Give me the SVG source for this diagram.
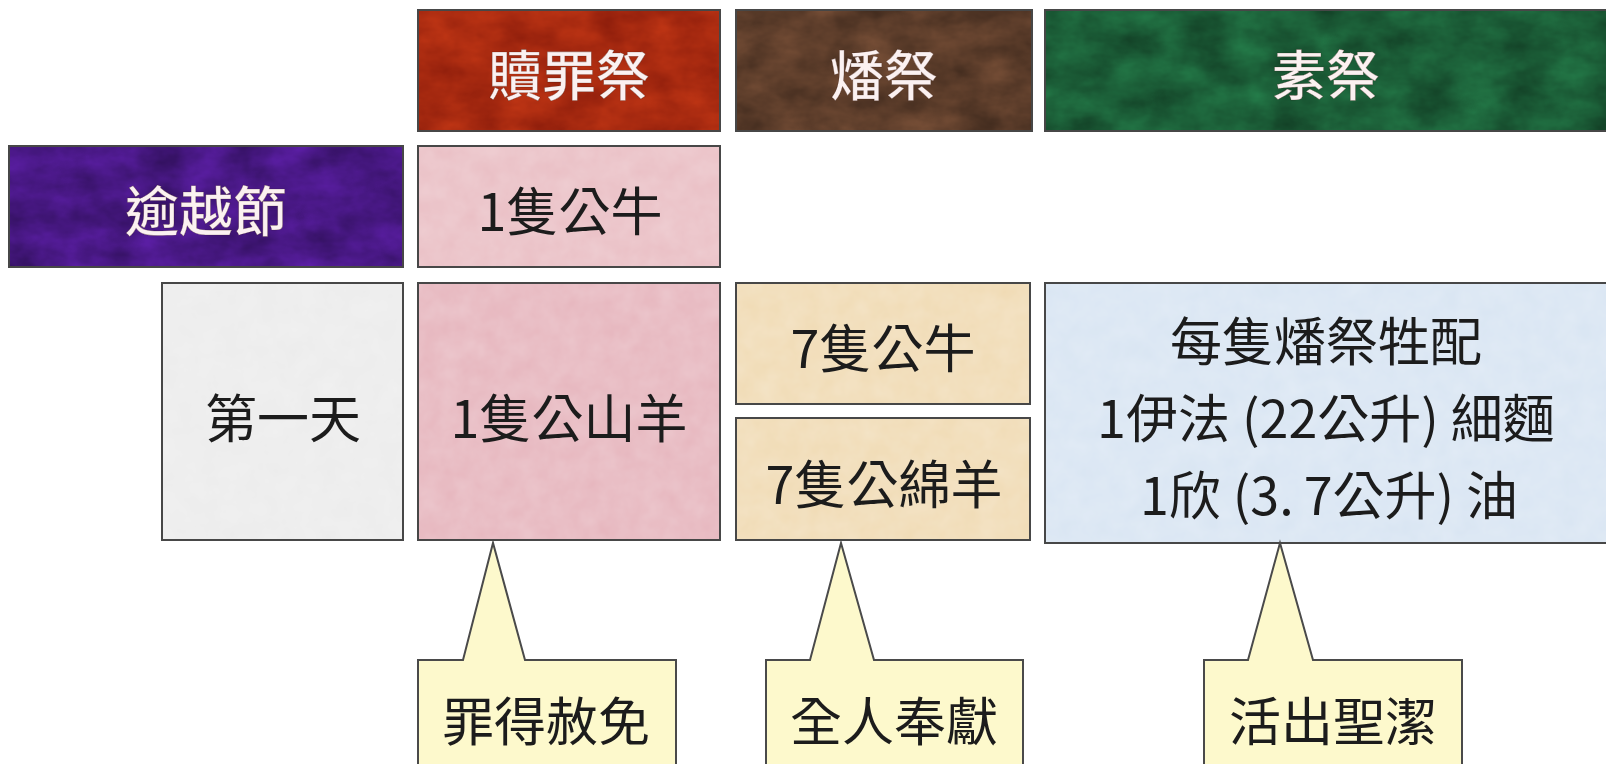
<svg xmlns="http://www.w3.org/2000/svg" width="1606" height="764" viewBox="0 0 1606 764">
<defs>
<filter id="texD" x="0" y="0" width="100%" height="100%" color-interpolation-filters="sRGB">
<feTurbulence type="fractalNoise" baseFrequency="0.022 0.035" numOctaves="4" seed="5" result="n"/>
<feColorMatrix in="n" type="saturate" values="0" result="g"/>
<feComponentTransfer in="g" result="g2"><feFuncA type="linear" slope="0" intercept="0.5"/></feComponentTransfer>
<feBlend in="g2" in2="SourceGraphic" mode="overlay" result="b"/>
<feComposite in="b" in2="SourceGraphic" operator="in"/>
</filter>
<filter id="texL" x="0" y="0" width="100%" height="100%" color-interpolation-filters="sRGB">
<feTurbulence type="fractalNoise" baseFrequency="0.05" numOctaves="3" seed="9" result="n"/>
<feColorMatrix in="n" type="saturate" values="0" result="g"/>
<feComponentTransfer in="g" result="g2"><feFuncA type="linear" slope="0" intercept="0.18"/></feComponentTransfer>
<feBlend in="g2" in2="SourceGraphic" mode="overlay" result="b"/>
<feComposite in="b" in2="SourceGraphic" operator="in"/>
</filter>
</defs>
<style>
.fillD{filter:url(#texD);}
.fillL{filter:url(#texL);}
.bd{fill:none;stroke:#474747;stroke-width:2;}
.t{font-family:"Noto Sans CJK TC","Noto Sans CJK SC",sans-serif;font-size:52px;text-anchor:middle;dominant-baseline:central;fill:#1c1c1c;}
.w{fill:#fbf1f1;font-size:54px;font-weight:500;stroke:#3a1a10;stroke-width:0.6;stroke-opacity:0.4;}
.call{fill:#fdf9cc;stroke:#4a4a4a;stroke-width:2;stroke-linejoin:miter;}
</style>
<rect width="1606" height="764" fill="#ffffff"/>

<g id="h-atonement">
<rect class="fillD" x="418" y="10" width="302" height="121" fill="#a82a10"/>
<rect class="bd" x="418" y="10" width="302" height="121"/>
<text class="t w" x="569" y="72">贖罪祭</text>
</g>
<g id="h-burnt">
<rect class="fillD" x="736" y="10" width="296" height="121" fill="#5e3e2b"/>
<rect class="bd" x="736" y="10" width="296" height="121"/>
<text class="t w" x="884" y="72">燔祭</text>
</g>
<g id="h-grain">
<rect class="fillD" x="1045" y="10" width="570" height="121" fill="#1b5d37"/>
<rect class="bd" x="1045" y="10" width="570" height="121"/>
<text class="t w" x="1326" y="72">素祭</text>
</g>

<g id="passover">
<rect class="fillD" x="9" y="146" width="394" height="121" fill="#481884"/>
<rect class="bd" x="9" y="146" width="394" height="121"/>
<text class="t w" x="206" y="208">逾越節</text>
</g>
<g id="bull1">
<rect class="fillL" x="418" y="146" width="302" height="121" fill="#ecc6cb"/>
<rect class="bd" x="418" y="146" width="302" height="121"/>
<text class="t" x="570" y="208">1隻公牛</text>
</g>

<g id="day1">
<rect class="fillL" x="162" y="283" width="241" height="257" fill="#eeeeee"/>
<rect class="bd" x="162" y="283" width="241" height="257"/>
<text class="t" x="283" y="415">第一天</text>
</g>
<g id="goat1">
<rect class="fillL" x="418" y="283" width="302" height="257" fill="#e9bec5"/>
<rect class="bd" x="418" y="283" width="302" height="257"/>
<text class="t" x="569" y="415">1隻公山羊</text>
</g>
<g id="bull7">
<rect class="fillL" x="736" y="283" width="294" height="121" fill="#f2dfbd"/>
<rect class="bd" x="736" y="283" width="294" height="121"/>
<text class="t" x="883" y="345">7隻公牛</text>
</g>
<g id="ram7">
<rect class="fillL" x="736" y="418" width="294" height="122" fill="#f2dfbd"/>
<rect class="bd" x="736" y="418" width="294" height="122"/>
<text class="t" x="884" y="481">7隻公綿羊</text>
</g>
<g id="grain-detail">
<rect class="fillL" x="1045" y="283" width="570" height="260" fill="#dde8f4"/>
<rect class="bd" x="1045" y="283" width="570" height="260"/>
<text class="t" x="1326" y="338">每隻燔祭牲配</text>
<text class="t" x="1326" y="415"><tspan>1伊法</tspan><tspan dx="12">(22公升)</tspan><tspan dx="12">細麵</tspan></text>
<text class="t" x="1329" y="492"><tspan>1欣</tspan><tspan dx="12">(3.</tspan><tspan dx="10">7公升)</tspan><tspan dx="12">油</tspan></text>
</g>

<g id="connectors">
<path class="call" d="M418,770 L418,660 L463,660 L493,543 L525,660 L676,660 L676,770"/>
<path class="call" d="M766,770 L766,660 L810,660 L841,543 L874,660 L1023,660 L1023,770"/>
<path class="call" d="M1204,770 L1204,660 L1248,660 L1280,543 L1313,660 L1462,660 L1462,770"/>
</g>
<g id="callout-forgiven">
<text class="t" x="546" y="718">罪得赦免</text>
</g>
<g id="callout-dedication">
<text class="t" x="894" y="718">全人奉獻</text>
</g>
<g id="callout-holy">
<text class="t" x="1333" y="718">活出聖潔</text>
</g>
</svg>
